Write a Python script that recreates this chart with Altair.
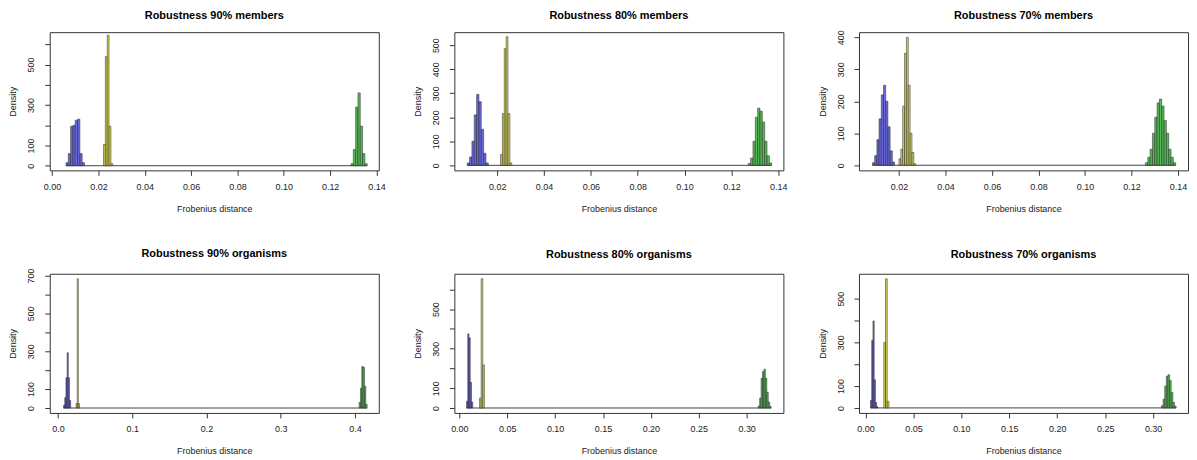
import altair as alt
import pandas as pd

titles = ["Robustness 90% members", "Robustness 80% members", "Robustness 70% members",
          "Robustness 90% organisms", "Robustness 80% organisms", "Robustness 70% organisms"]
title_offsets = [11, 11, 9, 9.5, 14, 14]

# histogram bins: first break, bin width, density per bin
blue_start = [0.0060, 0.0072, 0.0086, 0.0076, 0.0075, 0.0052]
blue_width = [0.0010, 0.0010, 0.00095, 0.0016, 0.0013, 0.0013]
blue_density = [
    [15, 60, 195, 200, 225, 230, 60, 15],
    [10, 35, 100, 210, 295, 265, 150, 50, 10],
    [8, 30, 80, 145, 220, 250, 200, 120, 45, 10],
    [15, 55, 160, 292, 160, 40],
    [34, 375, 355, 130, 30],
    [35, 310, 398, 129, 25, 5],
]

yellow_start = [0.0222, 0.0214, 0.0200, 0.0245, 0.0211, 0.0191]
yellow_width = [0.0008, 0.0008, 0.0008, 0.0015, 0.0017, 0.0018]
yellow_density = [
    [105, 540, 645, 195, 10],
    [45, 215, 485, 535, 215, 10],
    [20, 50, 185, 350, 400, 250, 100, 40, 5],
    [24, 683, 24],
    [50, 654, 218],
    [300, 591, 30],
]

green_start = [0.1290, 0.1272, 0.1260, 0.4055, 0.3121, 0.3087]
green_width = [0.0010, 0.0010, 0.0010, 0.0018, 0.0015, 0.0017]
green_density = [
    [10, 80, 290, 360, 195, 60, 10],
    [8, 30, 100, 200, 238, 225, 180, 100, 40, 10],
    [8, 25, 50, 100, 150, 195, 207, 185, 140, 100, 50, 25, 8],
    [30, 105, 219, 215, 115, 20],
    [10, 50, 150, 185, 196, 150, 80, 30, 8],
    [10, 40, 100, 145, 152, 125, 70, 25, 8],
]

x_domains = [[-0.001, 0.1410], [0.0017, 0.1422], [0.0028, 0.1443],
             [-0.011, 0.432], [-0.0052, 0.3384], [-0.0068, 0.3364]]
y_domains = [[-23, 660], [-21, 554], [-16, 416], [-26, 709], [-25, 679], [-23, 614]]

x_ticks = [
    [0.00, 0.02, 0.04, 0.06, 0.08, 0.10, 0.12, 0.14],
    [0.02, 0.04, 0.06, 0.08, 0.10, 0.12, 0.14],
    [0.02, 0.04, 0.06, 0.08, 0.10, 0.12, 0.14],
    [0.0, 0.1, 0.2, 0.3, 0.4],
    [0.00, 0.05, 0.10, 0.15, 0.20, 0.25, 0.30],
    [0.00, 0.05, 0.10, 0.15, 0.20, 0.25, 0.30],
]
x_formats = [".2f", ".2f", ".2f", ".1f", ".2f", ".2f"]
y_ticks = [
    [0, 100, 200, 300, 400, 500, 600],
    [0, 100, 200, 300, 400, 500],
    [0, 100, 200, 300, 400],
    [0, 100, 200, 300, 400, 500, 600, 700],
    [0, 100, 200, 300, 400, 500, 600],
    [0, 100, 200, 300, 400, 500],
]
y_labeled = [
    [0, 100, 300, 500],
    [0, 100, 200, 300, 400, 500],
    [0, 100, 200, 300, 400],
    [0, 100, 300, 500, 700],
    [0, 100, 300, 500],
    [0, 100, 300, 500],
]

light_colors = ["#6262dc", "#d2d24c", "#4fb84f"]
dark_colors = ["#3d3d91", "#8f8f45", "#3a8a3a"]
groups = ["blue", "yellow", "green"]

FONT = "Liberation Sans"


def panel(i):
    rows = []
    for g, st, wd, dens in zip(groups,
                               [blue_start, yellow_start, green_start],
                               [blue_width, yellow_width, green_width],
                               [blue_density, yellow_density, green_density]):
        for k, d in enumerate(dens[i]):
            x0 = st[i] + k * wd[i]
            rows.append({"group": g, "x0": x0, "x1": x0 + wd[i], "density": d, "base": 0})
    df = pd.DataFrame(rows)
    base_df = pd.DataFrame({"lo": [df["x0"].min()], "hi": [df["x1"].max()], "zero": [0]})

    xscale = alt.Scale(domain=x_domains[i], nice=False, zero=False)
    yscale = alt.Scale(domain=y_domains[i], nice=False, zero=False)
    colors = light_colors if i < 3 else dark_colors
    labset = ",".join(str(v) for v in y_labeled[i])
    xaxis = alt.Axis(values=x_ticks[i], format=x_formats[i], title="Frobenius distance")
    yaxis = alt.Axis(values=y_ticks[i], title="Density",
                     labelExpr=f"indexof([{labset}], datum.value) >= 0 ? datum.label : ''")

    bars = alt.Chart(df).mark_rect(stroke="#1a1a1a", strokeWidth=0.5, opacity=0.95).encode(
        x=alt.X("x0:Q", scale=xscale, axis=xaxis),
        x2="x1:Q",
        y=alt.Y("density:Q", scale=yscale, axis=yaxis),
        y2="base:Q",
        fill=alt.Fill("group:N", scale=alt.Scale(domain=groups, range=colors), legend=None),
    )
    rule = alt.Chart(base_df).mark_rule(color="#444", strokeWidth=1).encode(
        x=alt.X("lo:Q", scale=xscale, axis=xaxis), x2="hi:Q",
        y=alt.Y("zero:Q", scale=yscale, axis=yaxis)
    )
    return alt.layer(rule, bars).properties(
        width=331, height=139 if i < 3 else 140,
        title=alt.TitleParams(titles[i], font=FONT, fontSize=11, fontWeight="bold",
                              color="#000", anchor="middle", offset=title_offsets[i]),
    )


chart = alt.concat(*[panel(i) for i in range(6)], columns=3,
                   spacing=alt.RowColnumber(row=104, column=76), bounds="flush").configure_view(
    stroke="#333", strokeWidth=1
).configure_axis(
    domain=False, grid=False, tickColor="#333", tickSize=5, tickWidth=1,
    labelFont=FONT, labelFontSize=9, labelColor="#222", labelOverlap=False,
    titleFont=FONT, titleFontSize=9, titleFontWeight="normal", titleColor="#222",
).configure_axisX(labelPadding=7, titlePadding=13).configure_axisY(
    labelAngle=270, labelAlign="center", labelBaseline="bottom", labelPadding=9, titlePadding=9
).properties(padding={"left": 0, "top": 0, "right": 0, "bottom": 0})

chart.save("out.html", embed_options={"renderer": "svg", "actions": False})
